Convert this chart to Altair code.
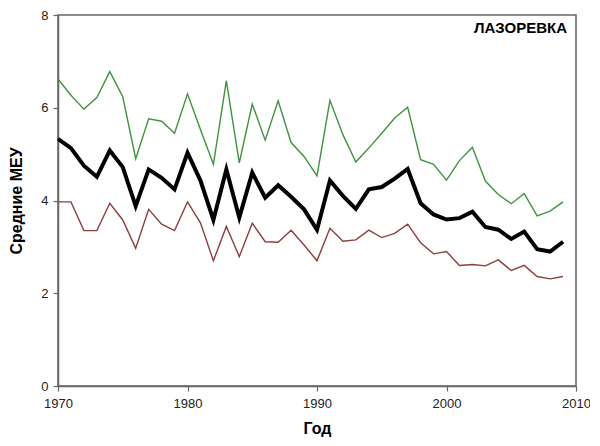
import altair as alt
import pandas as pd

years = list(range(1970, 2010))
upper = [6.62, 6.27, 5.97, 6.22, 6.78, 6.24, 4.90, 5.76, 5.71, 5.45,
         6.30, 5.53, 4.78, 6.58, 4.81, 6.08, 5.30, 6.15, 5.25, 4.95,
         4.53, 6.16, 5.42, 4.83, 5.13, 5.45, 5.78, 6.01, 4.88, 4.78,
         4.44, 4.86, 5.15, 4.42, 4.13, 3.93, 4.15, 3.67, 3.77, 3.97]
mean = [5.33, 5.13, 4.75, 4.51, 5.08, 4.72, 3.88, 4.67, 4.49, 4.24,
        5.03, 4.43, 3.58, 4.67, 3.63, 4.60, 4.06, 4.33, 4.08, 3.81,
        3.37, 4.43, 4.10, 3.82, 4.24, 4.29, 4.47, 4.68, 3.94, 3.70,
        3.59, 3.62, 3.76, 3.43, 3.37, 3.17, 3.33, 2.95, 2.90, 3.11]
lower = [3.97, 3.97, 3.35, 3.35, 3.94, 3.58, 2.97, 3.81, 3.49, 3.35,
         3.97, 3.52, 2.70, 3.44, 2.79, 3.51, 3.11, 3.10, 3.36, 3.04,
         2.70, 3.40, 3.12, 3.15, 3.36, 3.20, 3.29, 3.49, 3.09, 2.85,
         2.90, 2.60, 2.62, 2.59, 2.72, 2.49, 2.60, 2.36, 2.31, 2.36]
series_names = ["upper", "mean", "lower"]
series_colors = ["#3d943d", "#000000", "#8c3f3f"]
series_widths = [1.4, 4, 1.4]
x_ticks = [1970, 1980, 1990, 2000, 2010]
y_ticks = [0, 2, 4, 6, 8]
label_text = "ЛАЗОРЕВКА"
x_title = "Год"
y_title = "Средние МЕУ"

rows = []
for name, vals in zip(series_names, [upper, mean, lower]):
    for y, v in zip(years, vals):
        rows.append({"year": y, "value": v, "series": name})
df = pd.DataFrame(rows)

x_enc = alt.X("year:Q",
              scale=alt.Scale(domain=[1970, 2010], nice=False, zero=False),
              axis=alt.Axis(values=x_ticks, format="d", title=x_title,
                            labelFlush=False, labelPadding=6, titlePadding=10))
y_enc = alt.Y("value:Q",
              scale=alt.Scale(domain=[0, 8], nice=False),
              axis=alt.Axis(values=y_ticks, title=y_title, labelFlush=False,
                            labelPadding=5, titlePadding=16))

layers = []
for name, col, w in zip(series_names, series_colors, series_widths):
    layers.append(
        alt.Chart(df[df.series == name]).mark_line(color=col, strokeWidth=w, strokeJoin="miter")
        .encode(x=x_enc, y=y_enc)
    )

label = alt.Chart(pd.DataFrame({"t": [label_text]})).mark_text(
    align="right", baseline="middle", fontSize=15, fontWeight="bold",
    font="Liberation Sans", color="#000"
).encode(x=alt.value(509), y=alt.value(13), text="t:N")

chart = alt.layer(*layers, label).properties(
    width=518, height=371,
    autosize=alt.AutoSizeParams(type="none"),
    padding={"left": 50, "top": 7, "right": 14, "bottom": 58},
).configure_view(
    stroke="#666666", strokeWidth=1.5
).configure_axis(
    grid=False,
    domainColor="#666666", domainWidth=1.5,
    tickColor="#666666", tickSize=5, tickWidth=1.2,
    labelFont="Liberation Sans", labelFontSize=13, labelColor="#222222",
    titleFont="Liberation Sans", titleFontSize=16, titleFontWeight="bold",
    titleColor="#000000",
)

chart.save("out.html", embed_options={"renderer": "svg", "actions": False})
